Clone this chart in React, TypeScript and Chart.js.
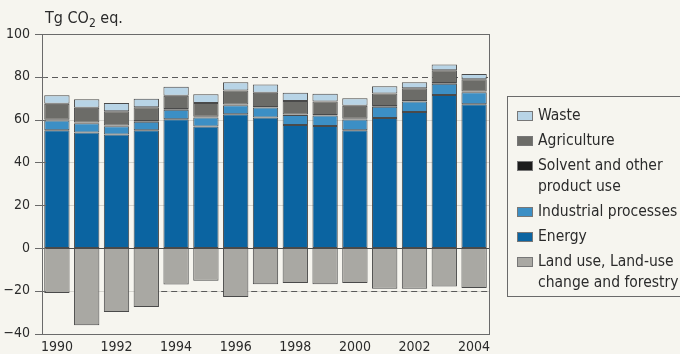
import { useEffect, useRef } from "react";
import { Chart, registerables } from "chart.js";

Chart.register(...registerables);

// Emissions by sector, Tg CO2 eq.
const years = ["1990", "1991", "1992", "1993", "1994", "1995", "1996", "1997", "1998", "1999", "2000", "2001", "2002", "2003", "2004"];
const energy = [55, 54, 53, 55, 60.2, 56.8, 62.5, 61, 57.5, 57, 55, 60.7, 63.6, 71.5, 67.2];
const industrial = [4.6, 4.3, 3.9, 4, 4.4, 4.2, 4.2, 4.6, 4.6, 4.9, 5.1, 5.3, 4.8, 5.3, 5.6];
const solvent = [0.3, 0.3, 0.3, 0.3, 0.3, 0.3, 0.3, 0.3, 0.3, 0.3, 0.3, 0.3, 0.3, 0.3, 0.3];
const agriculture = [7.5, 6.9, 6.7, 6.5, 6.3, 6.5, 6.6, 6.6, 6.3, 6.2, 6.1, 5.9, 6, 6, 5.8];
const waste = [4, 4, 3.9, 4, 4.1, 4.1, 3.9, 3.9, 3.8, 3.7, 3.5, 3.4, 2.8, 2.6, 2.4];
const landUse = [-21, -36.1, -29.9, -27.6, -17, -15.3, -22.9, -16.9, -16.3, -16.9, -16.3, -19, -19, -18, -18.7];

const yMin = -40;
const yMax = 100;
const yStep = 20;
const upperReference = 80;
const lowerReference = -20;
const lowerReferenceFrom = 3.5; // starts between 1993 and 1994

const FONT = '"DejaVu Sans Condensed", "Liberation Sans", sans-serif';
const BG = "#f6f5ef";
const INK = "#2b2b2b";

const series = [
  { label: "Energy", data: energy, color: "#0b64a1" },
  { label: "Industrial processes", data: industrial, color: "#3c8fc5" },
  { label: "Solvent and other product use", data: solvent, color: "#1c1c1c" },
  { label: "Agriculture", data: agriculture, color: "#6c6c68" },
  { label: "Waste", data: waste, color: "#b8d4e6" },
  { label: "Land use, Land-use change and forestry", data: landUse, color: "#a9a8a3" },
];

const legendRows = [
  { lines: ["Waste"], color: "#b8d4e6" },
  { lines: ["Agriculture"], color: "#6c6c68" },
  { lines: ["Solvent and other", "product use"], color: "#1c1c1c" },
  { lines: ["Industrial processes"], color: "#3c8fc5" },
  { lines: ["Energy"], color: "#0b64a1" },
  { lines: ["Land use, Land-use", "change and forestry"], color: "#a9a8a3" },
];

const framePlugin = {
  id: "frame",
  beforeDatasetsDraw(chart: any) {
    const { ctx, chartArea: a, scales } = chart;
    const y = scales.y;
    const x = scales.x;
    ctx.save();
    // light grid lines
    ctx.lineWidth = 1;
    for (let v = yMin + yStep; v < yMax; v += yStep) {
      if (v === 0 || v === upperReference) continue;
      const py = Math.round(y.getPixelForValue(v)) + 0.5;
      ctx.strokeStyle = "#d6d5cf";
      ctx.setLineDash([]);
      ctx.beginPath();
      ctx.moveTo(a.left, py);
      ctx.lineTo(a.right, py);
      ctx.stroke();
    }
    // dashed reference lines
    ctx.strokeStyle = "#5a5a5a";
    ctx.setLineDash([6, 4]);
    let py = Math.round(y.getPixelForValue(upperReference)) + 0.5;
    ctx.beginPath();
    ctx.moveTo(a.left, py);
    ctx.lineTo(a.right, py);
    ctx.stroke();
    py = Math.round(y.getPixelForValue(lowerReference)) + 0.5;
    ctx.beginPath();
    ctx.moveTo(x.getPixelForValue(lowerReferenceFrom), py);
    ctx.lineTo(a.right, py);
    ctx.stroke();
    ctx.restore();
  },
  afterDatasetsDraw(chart: any) {
    const { ctx, chartArea: a, scales } = chart;
    const y = scales.y;
    ctx.save();
    ctx.setLineDash([]);
    ctx.strokeStyle = "#4a4a4a";
    ctx.lineWidth = 1;
    // zero line
    const z = Math.round(y.getPixelForValue(0)) + 0.5;
    ctx.beginPath();
    ctx.moveTo(a.left, z);
    ctx.lineTo(a.right, z);
    ctx.stroke();
    // plot frame
    ctx.strokeStyle = "#6a6a6a";
    ctx.strokeRect(Math.round(a.left) + 0.5, Math.round(a.top) + 0.5, Math.round(a.right - a.left), Math.round(a.bottom - a.top));
    // tick marks crossing the axis
    for (let v = yMin; v <= yMax; v += yStep) {
      const ty = Math.round(y.getPixelForValue(v)) + 0.5;
      ctx.beginPath();
      ctx.moveTo(a.left - 7, ty);
      ctx.lineTo(a.left + 4, ty);
      ctx.stroke();
    }
    ctx.restore();
  },
};

export default function App() {
  const ref = useRef<HTMLCanvasElement>(null);

  useEffect(() => {
    document.body.style.margin = "0";
    document.body.style.background = BG;
    const canvas = ref.current;
    if (!canvas) return;
    const chart = new Chart(canvas, {
      type: "bar",
      data: {
        labels: years,
        datasets: series.map((s) => ({
          label: s.label,
          data: s.data,
          backgroundColor: s.color,
          borderColor: "#4a4a4a",
          borderWidth: 1,
          borderSkipped: false,
          stack: "all",
        })),
      },
      options: {
        animation: false,
        responsive: false,
        maintainAspectRatio: false,
        layout: { padding: { left: 0, right: 191, top: 34, bottom: 0 } },
        plugins: { legend: { display: false }, tooltip: { enabled: false }, title: { display: false } },
        datasets: { bar: { categoryPercentage: 1, barPercentage: 0.85 } },
        scales: {
          x: {
            stacked: true,
            grid: { display: false, drawTicks: false },
            border: { display: false },
            ticks: {
              autoSkip: false,
              maxRotation: 0,
              padding: 5,
              color: INK,
              font: { family: FONT, size: 14 },
              callback: (_v: any, i: number) => (i % 2 === 0 ? years[i] : ""),
            },
            afterFit: (s: any) => { s.height = 20; },
          },
          y: {
            stacked: true,
            min: yMin,
            max: yMax,
            grid: { display: false, drawTicks: false },
            border: { display: false },
            ticks: {
              stepSize: yStep,
              padding: 12,
              color: INK,
              font: { family: FONT, size: 14 },
              callback: (v: any) => (Number(v) < 0 ? "\u2212" + Math.abs(Number(v)) : String(v)),
            },
            afterFit: (s: any) => { s.width = 42; },
          },
        },
      },
      plugins: [framePlugin],
    });
    return () => chart.destroy();
  }, []);

  return (
    <div style={{ position: "relative", width: 680, height: 354, background: BG, overflow: "hidden", fontFamily: FONT, color: INK }}>
      <canvas ref={ref} width={680} height={354} style={{ position: "absolute", left: 0, top: 0 }} />
      <div style={{ position: "absolute", left: 45, top: 8, fontSize: 16, lineHeight: "20px", whiteSpace: "nowrap" }}>
        Tg CO<sub style={{ fontSize: 12, verticalAlign: "-4px", lineHeight: 0 }}>2</sub> eq.
      </div>
      <div
        style={{
          position: "absolute",
          left: 507,
          top: 96,
          width: 200,
          height: 201,
          border: "1px solid #6a6a6a",
          boxSizing: "border-box",
          paddingTop: 8,
          paddingLeft: 9,
          fontSize: 15.5,
          lineHeight: "21px",
        }}
      >
        {legendRows.map((r) => (
          <div key={r.lines.join(" ")} style={{ display: "flex", alignItems: "flex-start", marginBottom: 4 }}>
            <span
              style={{
                display: "inline-block",
                width: 16,
                height: 10,
                marginTop: 6,
                marginRight: 5,
                background: r.color,
                border: "1px solid #777",
                boxSizing: "border-box",
                flex: "none",
              }}
            />
            <span>
              {r.lines.map((l) => (
                <div key={l}>{l}</div>
              ))}
            </span>
          </div>
        ))}
      </div>
    </div>
  );
}
